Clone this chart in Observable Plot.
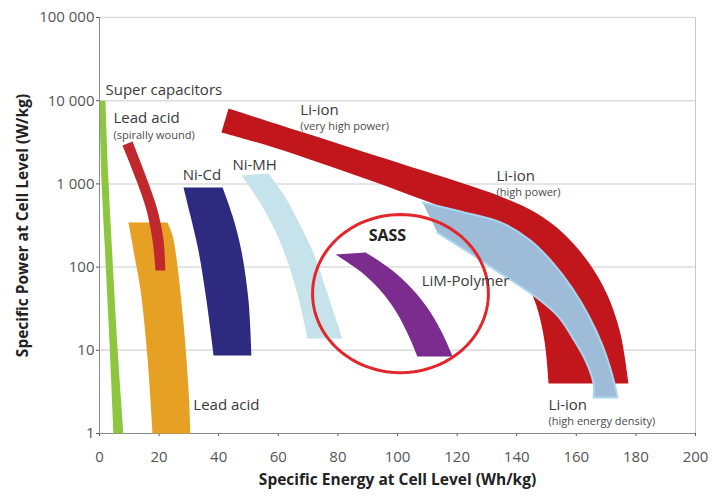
<!DOCTYPE html>
<html><head><meta charset="utf-8">
<script src="https://cdn.jsdelivr.net/npm/d3@7"></script>
<script src="https://cdn.jsdelivr.net/npm/@observablehq/plot@0.6"></script>
<style>body{margin:0;background:#fff;}</style>
</head><body><div id="chart"></div>
<script>
// Axis ticks
const xTicks = [0, 20, 40, 60, 80, 100, 120, 140, 160, 180, 200];
const yTicks = [1, 10, 100, 1000, 10000, 100000];
const yTickLabels = ["1", "10", "100", "1 000", "10 000", "100 000"];

// Band outlines: specific energy (Wh/kg) and specific power (W/kg).
// First half = one edge from the top down, second half = other edge from the bottom up.
const superCapEnergy = [0, 0.67, 2.0, 3.4, 4.7, 8.05, 6.0, 4.4, 3.0, 2.0];
const superCapPower  = [10000, 1099, 120, 11.4, 1, 1, 11.4, 120, 1099, 10000];

const leadAcidEnergy = [9.7, 10.7, 11.7, 13.8, 16.1, 17.8, 30.5, 29.9, 28.2, 25.8, 24.5, 22.8];
const leadAcidPower  = [344, 221, 138, 52.3, 8.2, 1, 1, 3.29, 21.0, 130, 240, 344];

const leadSpiralEnergy = [7.7, 12.4, 15.8, 17.8, 18.8, 22.1, 21.5, 19.5, 16.1, 11.1];
const leadSpiralPower  = [2894, 1099, 479, 209, 91, 91, 209, 479, 1099, 3234];

const niCdEnergy = [28.2, 30.5, 33.2, 35.9, 38.3, 51.0, 50.0, 47.6, 44.6, 41.3];
const niCdPower  = [905, 417, 158, 39.7, 8.66, 8.66, 39.7, 158, 417, 905];

const niMhEnergy = [47.7, 53.0, 58.1, 62.4, 66.4, 69.8, 81.5, 76.5, 72.1, 67.4, 62.4, 56.7];
const niMhPower  = [1262, 668, 316, 138, 48.2, 13.9, 13.9, 48.2, 138, 316, 687, 1334];

const limPolyEnergy = [79.2, 87.6, 94.3, 99.7, 103.7, 106.7, 118.5, 115.4, 111.1, 105.4, 98.3, 89.3];
const limPolyPower  = [142, 88.5, 52.3, 28.5, 15.1, 8.42, 8.42, 15.1, 28.5, 52.3, 91, 150];

const liIonPowerEnergy = [43.3, 67.4, 101.0, 121.1, 134.6, 146.3, 155.7, 164.1, 170.5, 174.8, 177.5,
                          150.7, 149.3, 146.6, 142.6, 136.2, 127.9, 121.1, 101.0, 77.5, 57.4, 40.9];
const liIonPowerPower  = [8054, 4264, 1759, 1040, 706, 453, 254, 114, 45.6, 15.9, 3.99,
                          3.99, 13.1, 34.5, 72.9, 150, 275, 417, 811, 1619, 2816, 4150];

const liIonDensityEnergy = [108.4, 121.1, 134.6, 144.6, 152.0, 158.7, 164.1, 168.8, 172.1, 173.8,
                            165.8, 165.8, 163.1, 158.7, 154.0, 148.0, 141.9, 134.6, 124.5, 113.4];
const liIonDensityPower  = [598, 466, 344, 209, 114, 55.3, 26.2, 11.4, 4.98, 2.71,
                            2.71, 3.99, 7.54, 14.3, 25.5, 39.7, 56.9, 84, 146, 260];

// Labels
const mainLabels = ["Super capacitors", "Lead acid", "Ni-Cd", "Ni-MH", "Li-ion", "Li-ion", "LiM-Polymer", "Lead acid", "Li-ion"];
const mainLabelEnergy = [2.0, 4.7, 27.9, 44.6, 67.4, 133.2, 108.1, 31.5, 150.7];
const mainLabelPower  = [13270, 6110, 1262, 1664, 7625, 1228, 67.1, 2.17, 2.17];

const subLabels = ["(spirally wound)", "(very high power)", "(high power)", "(high energy density)"];
const subLabelEnergy = [4.7, 67.4, 133.2, 150.7];
const subLabelPower  = [3818, 4898, 780, 1.39];

const highlightLabel = ["SASS"];
const highlightEnergy = [96.6];
const highlightPower = [240];

// Highlight ellipse: centre (Wh/kg, W/kg) and radii (Wh/kg, decades)
const ellipseCenter = [101, 48];
const ellipseRadii = [29.5, 0.95];

// Build a closed outline; the two bottom corners are doubled so the spline keeps them sharp
function outline(E, P) {
  const pts = E.map((e, i) => ({e, p: P[i]}));
  const h = pts.length / 2;
  return [...pts.slice(0, h), pts[h - 1], pts[h], ...pts.slice(h)];
}
const band = (E, P, color, extra = {}) =>
  Plot.line(outline(E, P), {x: "e", y: "p", fill: color, stroke: "none", curve: "catmull-rom", ...extra});

const ellipsePts = d3.range(0, 361, 3).map(a => {
  const t = a * Math.PI / 180;
  return {e: ellipseCenter[0] + ellipseRadii[0] * Math.cos(t),
          p: ellipseCenter[1] * Math.pow(10, ellipseRadii[1] * Math.sin(t))};
});

const labelData = (T, E, P) => T.map((t, i) => ({t, e: E[i], p: P[i]}));

const chart = Plot.plot({
  width: 721,
  height: 497,
  marginLeft: 99,
  marginRight: 26,
  marginTop: 17,
  marginBottom: 64,
  style: {fontFamily: "'Open Sans', sans-serif", fontSize: "15px", color: "#555", background: "#fff"},
  x: {domain: [0, 200], ticks: xTicks, tickSize: 3, tickPadding: 15, label: null},
  y: {type: "log", domain: [1, 100000], ticks: yTicks, tickSize: 3, tickPadding: 2, label: null,
      tickFormat: d => yTickLabels[yTicks.indexOf(d)]},
  marks: [
    Plot.ruleY(yTicks.slice(1), {stroke: "#dcdcdc", strokeWidth: 1.5}),
    Plot.ruleX([200], {stroke: "#c8c8c8"}),
    Plot.ruleX([0], {stroke: "#8a8a8a"}),
    Plot.ruleY([1], {stroke: "#8a8a8a"}),
    band(superCapEnergy, superCapPower, "#8dc63f"),
    band(leadAcidEnergy, leadAcidPower, "#e6a024"),
    band(leadSpiralEnergy, leadSpiralPower, "#c0282d"),
    band(niCdEnergy, niCdPower, "#2d2a7f"),
    band(niMhEnergy, niMhPower, "#c6e2ea"),
    band(limPolyEnergy, limPolyPower, "#7c2b8e"),
    band(liIonPowerEnergy, liIonPowerPower, "#c1161c"),
    band(liIonDensityEnergy, liIonDensityPower, "#9ebcd7", {stroke: "#a8d6f0", strokeWidth: 2}),
    Plot.line(ellipsePts, {x: "e", y: "p", stroke: "#e3262b", strokeWidth: 3, curve: "linear"}),
    Plot.text(labelData(mainLabels, mainLabelEnergy, mainLabelPower), {x: "e", y: "p", text: "t", textAnchor: "start", lineAnchor: "middle", fontSize: 15, fill: "#3a3a3a"}),
    Plot.text(labelData(subLabels, subLabelEnergy, subLabelPower), {x: "e", y: "p", text: "t", textAnchor: "start", lineAnchor: "middle", fontSize: 11, fill: "#4a4a4a"}),
    Plot.text(labelData(highlightLabel, highlightEnergy, highlightPower), {x: "e", y: "p", text: "t", textAnchor: "middle", lineAnchor: "middle", fontSize: 16, fontWeight: "bold", fill: "#222"}),
    Plot.text(["Specific Energy at Cell Level (Wh/kg)"], {frameAnchor: "bottom", textAnchor: "middle", dy: 47, lineAnchor: "middle", fontSize: 15.5, fontWeight: "bold", fill: "#222"}),
    Plot.text(["Specific Power at Cell Level (W/kg)"], {frameAnchor: "left", textAnchor: "middle", dx: -76, rotate: -90, lineAnchor: "middle", fontSize: 15.5, fontWeight: "bold", fill: "#222"})
  ]
});
document.getElementById("chart").appendChild(chart);
</script>
</body></html>
